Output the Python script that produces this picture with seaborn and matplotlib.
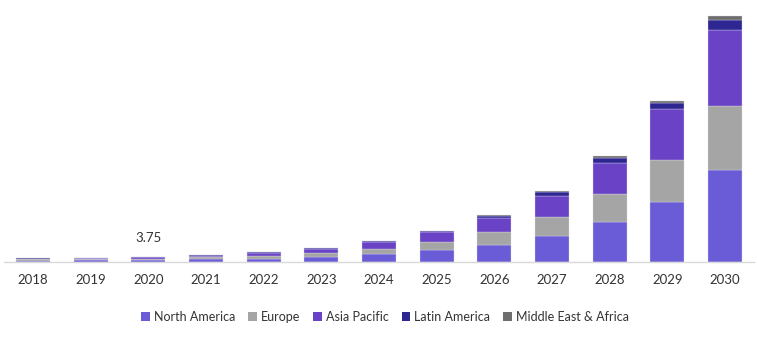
import matplotlib
matplotlib.use("Agg")
import matplotlib.pyplot as plt
from matplotlib.patches import Patch
import seaborn as sns
import pandas as pd
import numpy as np

years = ["2018", "2019", "2020", "2021", "2022", "2023", "2024", "2025", "2026", "2027", "2028", "2029", "2030"]
north_america = [1.1, 1.25, 1.45, 1.9, 2.3, 3.5, 6.0, 8.7, 12.75, 19.5, 30.0, 45.0, 69.0]
europe = [0.8, 0.9, 1.05, 1.5, 2.0, 3.0, 4.0, 6.75, 10.0, 14.7, 21.5, 32.0, 48.75]
asia_pacific = [0.7, 0.85, 1.0, 1.5, 2.4, 3.0, 4.8, 7.05, 10.7, 15.75, 23.5, 38.0, 57.0]
latin_america = [0.15, 0.15, 0.15, 0.25, 0.6, 0.9, 0.7, 0.75, 1.3, 2.55, 3.75, 4.7, 7.5]
mea = [0.1, 0.1, 0.1, 0.1, 0.3, 0.4, 0.35, 0.45, 0.75, 1.0, 1.5, 2.0, 3.2]
annot_year = "2020"
annot_text = "3.75"

series = [
    ("North America", north_america, "#6a5bd6"),
    ("Europe", europe, "#a5a5a5"),
    ("Asia Pacific", asia_pacific, "#6942c5"),
    ("Latin America", latin_america, "#2e2691"),
    ("Middle East & Africa", mea, "#6e6e6e"),
]

sns.set_theme(style="white")
plt.rcParams["font.family"] = ["Lato", "DejaVu Sans"]

fig = plt.figure(figsize=(7.58, 3.37), dpi=100)
ax = fig.add_axes([4 / 758, (337 - 262) / 337, 750 / 758, 252 / 337])

bottom = np.zeros(len(years))
for name, vals, color in series:
    df = pd.DataFrame({"year": years, "value": vals})
    sns.barplot(data=df, x="year", y="value", color=color, bottom=bottom,
                width=0.59, edgecolor="#dcdcec", linewidth=0.25, ax=ax,
                saturation=1)
    bottom = bottom + np.array(vals)

ax.set_xlim(-0.5, len(years) - 0.5)
ax.set_ylim(0, 190)
ax.set_xlabel("")
ax.set_ylabel("")
ax.set_yticks([])
for s in ["top", "right", "left"]:
    ax.spines[s].set_visible(False)
ax.spines["bottom"].set_color("#d9d9d9")
ax.spines["bottom"].set_linewidth(1.0)
ax.tick_params(axis="x", length=0, pad=9, labelsize=9.5, colors="#333333")

idx = years.index(annot_year)
ax.text(idx, bottom[idx] + 10, annot_text, ha="center", va="bottom", fontsize=9.5, color="#333333")

handles = [Patch(facecolor=c, edgecolor="none", label=n) for n, _, c in series]
fig.legend(handles=handles, loc="center", bbox_to_anchor=(385 / 758, 1 - 317 / 337), ncol=5,
           frameon=False, fontsize=9, handlelength=0.7, handleheight=0.7, handletextpad=0.3,
           columnspacing=1.05, labelcolor="#333333")

fig.savefig("out.png", dpi=100)
